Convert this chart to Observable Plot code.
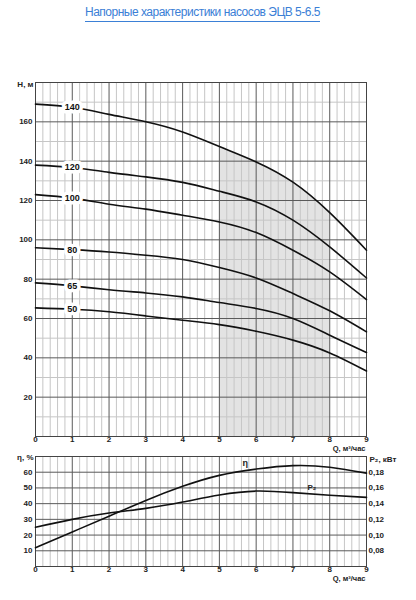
<!DOCTYPE html>
<html>
<head>
<meta charset="utf-8">
<script src="https://cdn.jsdelivr.net/npm/d3@7"></script>
<script src="https://cdn.jsdelivr.net/npm/@observablehq/plot@0.6"></script>
<style>
  html, body { margin: 0; padding: 0; background: #fff; }
  #title { width: 405px; height: 60px; text-align: center; }
  #title span {
    display: inline-block; margin-top: 4px; font-family: "Liberation Sans", Arial, sans-serif;
    font-size: 12px; letter-spacing: -0.5px; line-height: 16px; color: #3b80d6; padding-bottom: 1px;
    border-bottom: 1px solid #3b80d6;
  }
  svg { display: block; }
</style>
</head>
<body>
<div id="title"><span>Напорные характеристики насосов ЭЦВ 5-6.5</span></div>
<div id="topChart"></div>
<div id="bottomChart"></div>
<script>
// Flow rate, m³/h
const Q = [0, 1, 2, 3, 4, 5, 6, 7, 8, 9];
// Head curves (H, m) for each pump model
const headSeries = ["140", "120", "100", "80", "65", "50"];
const H140 = [169, 167.4, 163.8, 160, 154.8, 147.4, 139.6, 129.3, 113.8, 94.7];
const H120 = [138, 136.8, 134.3, 132, 129.2, 124.7, 119.3, 110, 96.4, 80.6];
const H100 = [123, 121.2, 118.1, 115.6, 112.5, 109.1, 103.7, 94.7, 83.7, 69.6];
const H80  = [96, 95, 93.8, 92.2, 90, 85.9, 80.6, 72.7, 63.9, 53.2];
const H65  = [78.1, 76.6, 74.6, 73, 71, 68.1, 65.1, 60, 51.5, 42.7];
const H50  = [65.4, 64.7, 63.4, 61.3, 59.1, 56.9, 53.5, 49, 42.5, 33.3];
const headValues = [H140, H120, H100, H80, H65, H50];
// Working range (shaded)
const rangeFrom = 5, rangeTo = 8;
// Efficiency, % and power P2, kW
const eta = [12, 22, 32, 42, 51, 58, 62, 64.2, 63.2, 59.4];
const p2  = [0.11, 0.12, 0.128, 0.134, 0.142, 0.151, 0.156, 0.154, 0.1506, 0.148];
// Tick labels
const qTicks = [0, 1, 2, 3, 4, 5, 6, 7, 8, 9];
const hTicks = [20, 40, 60, 80, 100, 120, 140, 160];
const hMinor = [10, 30, 50, 70, 90, 110, 130, 150, 170];
const etaTicks = [10, 20, 30, 40, 50, 60];
const p2Ticks = [0.08, 0.10, 0.12, 0.14, 0.16, 0.18];

// P2 axis relation to the η axis: 0.06 kW at 0 %, +0.002 kW per %
const p2ToLevel = v => (v - 0.06) / 0.002;
const levelToP2 = d => d * 0.002 + 0.06;

const headRows = headSeries.flatMap((s, i) => Q.map((q, j) => ({s, q, h: headValues[i][j]})));
const labelRows = headRows.filter(d => d.q === 1);
const shadeRows = headRows.filter(d => d.s === "140" && d.q >= rangeFrom && d.q <= rangeTo);
const minorQ = d3.range(0, 9.001, 0.2).filter(v => Math.abs(v - Math.round(v)) > 1e-6);

const font = {fontFamily: "'Liberation Sans', Arial, sans-serif", fontSize: "8px", fontWeight: "bold",
  overflow: "visible", background: "transparent", color: "#222"};
const minorColor = "#c6c6c6", majorColor = "#5a5a5a";
const curve = "natural";

const headChart = Plot.plot({
  width: 416, height: 388, marginTop: 22, marginBottom: 12, marginLeft: 35, marginRight: 50,
  style: font,
  x: {domain: [0, 9], axis: null},
  y: {domain: [0, 180], axis: null},
  marks: [
    Plot.areaY(shadeRows, {x: "q", y: "h", fill: "#e3e3e3", curve}),
    Plot.ruleX(minorQ, {stroke: minorColor}),
    Plot.ruleY(hMinor, {stroke: minorColor}),
    Plot.ruleX(qTicks, {stroke: majorColor}),
    Plot.ruleY(hTicks, {stroke: majorColor}),
    Plot.frame({stroke: "#444"}),
    Plot.line(headRows, {x: "q", y: "h", z: "s", stroke: "#111", strokeWidth: 1.6, curve}),
    Plot.text(labelRows, {x: "q", y: "h", text: "s", fill: "#111", stroke: "white", strokeWidth: 7, fontSize: 9}),
    Plot.axisX(qTicks, {tickSize: 0, tickPadding: 0, label: null}),
    Plot.axisY(hTicks, {tickSize: 0, tickPadding: 3, label: null}),
    Plot.text(["Q, м³/час"], {frameAnchor: "bottom-right", textAnchor: "end", dx: -1, dy: 14, fontSize: 7.5}),
    Plot.text(["H, м"], {frameAnchor: "top-left", textAnchor: "end", dx: -2, dy: -1})
  ]
});
document.getElementById("topChart").append(headChart);

const effRows = Q.map((q, j) => ({q, v: eta[j]}));
const powRows = Q.map((q, j) => ({q, v: p2ToLevel(p2[j])}));

const effChart = Plot.plot({
  width: 416, height: 148, marginTop: 8, marginBottom: 30, marginLeft: 35, marginRight: 50,
  style: font,
  x: {domain: [0, 9], axis: null},
  y: {domain: [0, 70], axis: null},
  marks: [
    Plot.ruleX(minorQ, {stroke: minorColor}),
    Plot.ruleX(qTicks, {stroke: majorColor}),
    Plot.ruleY(etaTicks, {stroke: majorColor}),
    Plot.frame({stroke: "#444"}),
    Plot.line(effRows, {x: "q", y: "v", stroke: "#111", strokeWidth: 1.6, curve}),
    Plot.line(powRows, {x: "q", y: "v", stroke: "#111", strokeWidth: 1.6, curve}),
    Plot.text(effRows.filter(d => d.q === 6), {x: "q", y: "v", text: () => "η", dx: -11, dy: -6, fontSize: 9}),
    Plot.text(powRows.filter(d => d.q === 7), {x: "q", y: "v", text: () => "P₂", dx: 19, dy: -5}),
    Plot.axisX(qTicks, {tickSize: 0, tickPadding: 0, label: null}),
    Plot.axisY(etaTicks, {tickSize: 0, tickPadding: 3, label: null}),
    Plot.axisY(p2Ticks.map(p2ToLevel), {anchor: "right", tickSize: 0, tickPadding: 2, label: null,
      tickFormat: d => levelToP2(d).toFixed(2).replace(".", ",")}),
    Plot.text(["Q, м³/час"], {frameAnchor: "bottom-right", textAnchor: "end", dx: -1, dy: 14, fontSize: 7.5}),
    Plot.text(["η, %"], {frameAnchor: "top-left", textAnchor: "end", dx: -2, dy: -2}),
    Plot.text(["P₂, кВт"], {frameAnchor: "top-right", textAnchor: "start", dx: 3, dy: 0})
  ]
});
document.getElementById("bottomChart").append(effChart);
</script>
</body>
</html>
